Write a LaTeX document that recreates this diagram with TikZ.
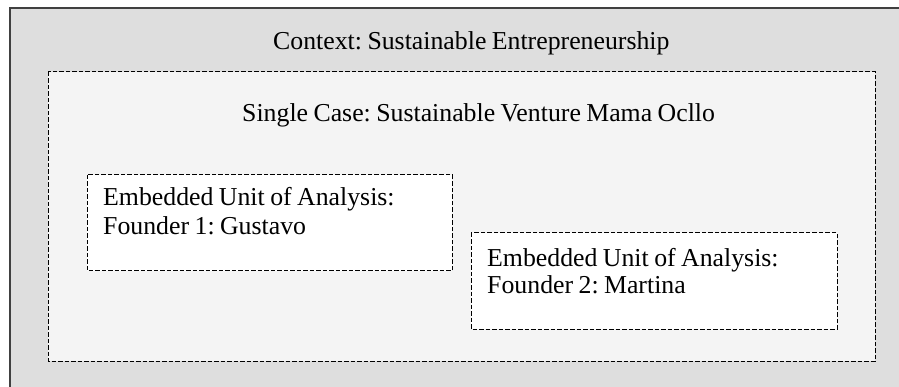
\documentclass[tikz,border=0pt]{standalone}
\usepackage{fontspec}
\setmainfont{Liberation Serif}
\newcommand\mylblfont{\fontsize{25.8}{30}\selectfont\frenchspacing\spaceskip=0.21em\relax}
\begin{document}
\begin{tikzpicture}[x=1pt,y=-1pt,
  ctxbox/.style={draw=black!75,line width=1.5pt,fill=black!13},
  casebox/.style={draw=black,line width=1pt,dash pattern=on 4.5pt off 2pt,fill=black!4.5},
  unitbox/.style={draw=black,line width=1pt,dash pattern=on 4.5pt off 2pt,fill=white},
  lbl/.style={anchor=base west,inner sep=0pt,font=\mylblfont}]
\useasboundingbox (0,0) rectangle (899,387);
\clip (0,0) rectangle (899,387);
\draw[ctxbox] (10,8) rectangle (912,400);
\draw[casebox] (48,72) rectangle (875,361);
\draw[unitbox] (87,175) rectangle (452,271);
\draw[unitbox] (471,233) rectangle (837,329);
\node[lbl] (tctx) at (273,50) {Context: Sustainable Entrepreneurship};
\node[lbl] (tcase) at (242,122) {Single Case: Sustainable Venture Mama Ocllo};
\node[lbl] (ua1) at (103,206) {Embedded Unit of Analysis:};
\node[lbl] (ub1) at (103,235) {Founder 1: Gustavo};
\node[lbl] (ua2) at (487,266) {Embedded Unit of Analysis:};
\node[lbl] (ub2) at (487,294) {Founder 2: Martina};
\end{tikzpicture}
\end{document}
